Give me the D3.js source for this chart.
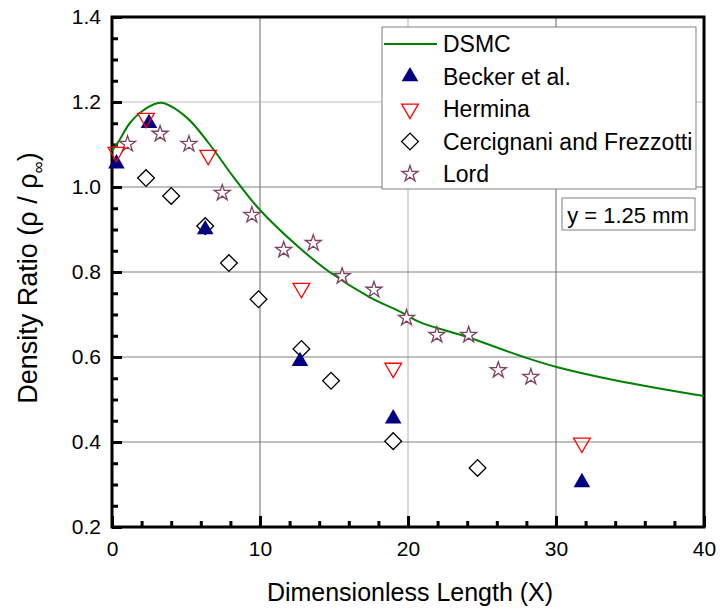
<!DOCTYPE html>
<meta charset="utf-8">
<html>
<head>
<title>Density Ratio</title>
<style>
  body { margin: 0; background: #fff; }
  text { font-family: "Liberation Sans", Arial, sans-serif; }
</style>
</head>
<body>
<script src="https://d3js.org/d3.v7.min.js"></script>
<svg width="720" height="613"></svg>
<script>
// data
var dsmcX = [0, 0.5, 1.2, 2.1, 3.3, 5, 6.6, 8.2, 10, 12.7, 14.7, 17.4, 19.5, 20.8, 24, 28, 30.1, 33.9, 40];
var dsmcY = [1.085, 1.11, 1.15, 1.18, 1.198, 1.165, 1.10, 1.024, 0.946, 0.856, 0.80, 0.741, 0.706, 0.682, 0.647, 0.598, 0.576, 0.546, 0.508];

var beckerX = [0.3, 2.5, 6.3, 12.7, 19.0, 31.75];
var beckerY = [1.055, 1.15, 0.90, 0.59, 0.455, 0.305];

var herminaX = [0.3, 2.3, 6.5, 12.8, 19.0, 31.75];
var herminaY = [1.082, 1.162, 1.075, 0.762, 0.574, 0.398];

var cercX = [2.3, 4.0, 6.3, 7.9, 9.9, 12.8, 14.8, 19.0, 24.7];
var cercY = [1.021, 0.979, 0.908, 0.821, 0.736, 0.619, 0.544, 0.402, 0.339];

var lordX = [1.05, 3.25, 5.2, 7.45, 9.45, 11.6, 13.6, 15.55, 17.7, 19.9, 21.95, 24.1, 26.1, 28.3];
var lordY = [1.101, 1.125, 1.101, 0.986, 0.934, 0.852, 0.868, 0.79, 0.758, 0.692, 0.652, 0.652, 0.569, 0.553];

var xTicks = [0, 10, 20, 30, 40];
var yTicks = [0.2, 0.4, 0.6, 0.8, 1.0, 1.2, 1.4];

var legendNames = ["DSMC", "Becker et al.", "Hermina", "Cercignani and Frezzotti", "Lord"];

var svg = d3.select("svg");
var pLeft = 112, pRight = 704, pTop = 17, pBottom = 527;

var x = d3.scaleLinear().domain([0, 40]).range([pLeft, pRight]);
var y = d3.scaleLinear().domain([0.2, 1.4]).range([pBottom, pTop]);

function zip(a, b) { return a.map(function(v, i) { return [v, b[i]]; }); }

// grid (a couple of lines are lighter in the original)
svg.append("g").selectAll("line").data(xTicks.slice(1, -1)).enter().append("line")
  .attr("x1", d => x(d)).attr("x2", d => x(d)).attr("y1", pTop).attr("y2", pBottom)
  .attr("stroke", d => d == 20 ? "#c0c0c0" : "#808080").attr("stroke-width", 1.2);
svg.append("g").selectAll("line").data(yTicks.slice(1, -1)).enter().append("line")
  .attr("x1", pLeft).attr("x2", pRight).attr("y1", d => y(d)).attr("y2", d => y(d))
  .attr("stroke", d => d == 1.2 ? "#c0c0c0" : "#808080").attr("stroke-width", 1.2);

// ticks (inward)
var xAxis = svg.append("g").attr("transform", "translate(0," + pBottom + ")");
xAxis.append("g").call(d3.axisBottom(x).tickValues(d3.range(0, 41, 2)).tickSize(-6).tickFormat(""));
xAxis.append("g").call(d3.axisBottom(x).tickValues(xTicks).tickSize(-11).tickFormat(d3.format("d")).tickPadding(14));
xAxis.selectAll(".domain").remove();
xAxis.selectAll("line").attr("stroke-width", 3);
xAxis.selectAll("text").attr("font-size", 21).attr("fill", "#000")
  .style("font-family", "'Liberation Sans', Arial, sans-serif");

var yAxis = svg.append("g").attr("transform", "translate(" + pLeft + ",0)");
yAxis.append("g").call(d3.axisLeft(y).tickValues(d3.range(0, 25).map(i => 0.2 + i * 0.05)).tickSize(-6).tickFormat(""));
yAxis.append("g").call(d3.axisLeft(y).tickValues(yTicks).tickSize(-10).tickFormat(d3.format(".1f")).tickPadding(11));
yAxis.selectAll(".domain").remove();
yAxis.selectAll("line").attr("stroke-width", 3);
yAxis.selectAll("text").attr("font-size", 21).attr("fill", "#000")
  .style("font-family", "'Liberation Sans', Arial, sans-serif");

// frame
svg.append("rect").attr("x", pLeft).attr("y", pTop).attr("width", pRight - pLeft).attr("height", pBottom - pTop)
  .attr("fill", "none").attr("stroke", "#000").attr("stroke-width", 3);

// DSMC curve
var line = d3.line().x(d => x(d[0])).y(d => y(d[1])).curve(d3.curveCatmullRom);
svg.append("path").datum(zip(dsmcX, dsmcY)).attr("d", line)
  .attr("fill", "none").attr("stroke", "#008000").attr("stroke-width", 2);

var triUp = d3.symbol().type(d3.symbolTriangle).size(120);
var diamond = d3.symbol().type(d3.symbolSquare).size(140);
var star = d3.symbol().type(d3.symbolStar).size(80);

function marks(data, sym, rot, fill, stroke) {
  svg.append("g").selectAll("path").data(data).enter().append("path")
    .attr("d", sym)
    .attr("transform", d => "translate(" + x(d[0]) + "," + y(d[1]) + ") rotate(" + rot + ")")
    .attr("fill", fill).attr("stroke", stroke).attr("stroke-width", 1.3);
}
marks(zip(cercX, cercY), diamond, 45, "#fff", "#000");
marks(zip(lordX, lordY), star, 0, "#fff", "#804060");
marks(zip(beckerX, beckerY), triUp, 0, "#000080", "none");
marks(zip(herminaX, herminaY), triUp, 180, "none", "#ff0000");

// legend
var lg = svg.append("g");
lg.append("rect").attr("x", 382).attr("y", 27).attr("width", 314).attr("height", 162)
  .attr("fill", "#fff").attr("stroke", "#808080").attr("stroke-width", 1);
var rowY = legendNames.map((d, i) => 44 + i * 32.5);
lg.append("line").attr("x1", 384).attr("x2", 437).attr("y1", rowY[0]).attr("y2", rowY[0])
  .attr("stroke", "#008000").attr("stroke-width", 2);
lg.append("path").attr("d", triUp).attr("transform", "translate(410," + rowY[1] + ")").attr("fill", "#000080");
lg.append("path").attr("d", triUp).attr("transform", "translate(410," + rowY[2] + ") rotate(180)")
  .attr("fill", "none").attr("stroke", "#ff0000").attr("stroke-width", 1.3);
lg.append("path").attr("d", diamond).attr("transform", "translate(410," + rowY[3] + ") rotate(45)")
  .attr("fill", "none").attr("stroke", "#000").attr("stroke-width", 1.3);
lg.append("path").attr("d", star).attr("transform", "translate(410," + rowY[4] + ")")
  .attr("fill", "none").attr("stroke", "#804060").attr("stroke-width", 1.3);
lg.selectAll("text.name").data(legendNames).enter().append("text")
  .attr("x", 443).attr("y", (d, i) => rowY[i] + 8).attr("font-size", 23).text(d => d);

// annotation
svg.append("rect").attr("x", 562).attr("y", 198).attr("width", 133).attr("height", 32)
  .attr("fill", "#fff").attr("stroke", "#808080").attr("stroke-width", 1);
svg.append("text").attr("x", 628).attr("y", 223).attr("text-anchor", "middle").attr("font-size", 22).text("y = 1.25 mm");

// axis titles
svg.append("text").attr("x", 410).attr("y", 601).attr("text-anchor", "middle").attr("font-size", 25)
  .text("Dimensionless Length (X)");
var yt = svg.append("text").attr("transform", "translate(37,278) rotate(-90)").attr("text-anchor", "middle").attr("font-size", 27);
yt.append("tspan").text("Density Ratio (\u03c1 / \u03c1");
yt.append("tspan").attr("dy", 7).attr("font-size", 17).text("\u221e");
yt.append("tspan").attr("dy", -7).text(")");
</script>
</body>
</html>
